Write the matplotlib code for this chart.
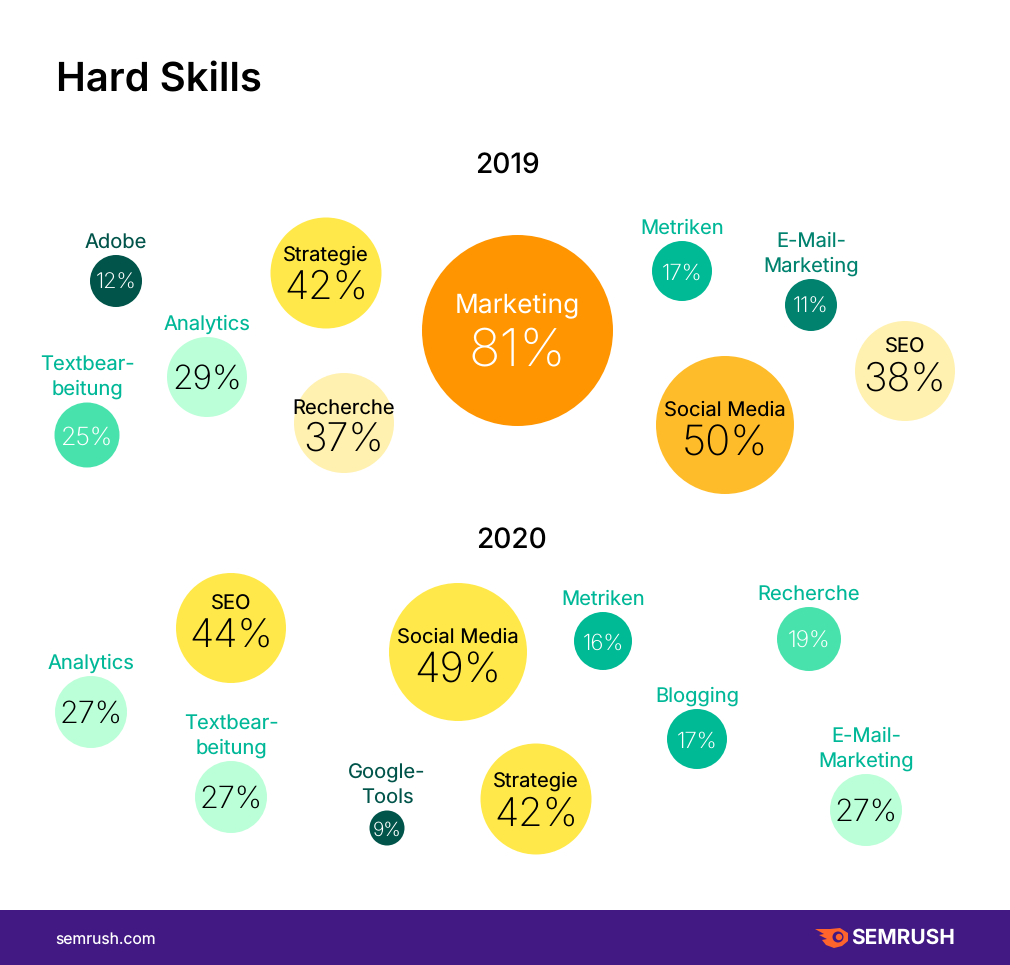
import matplotlib
matplotlib.use("Agg")
import matplotlib.pyplot as plt
from matplotlib.patches import Circle, Rectangle, Polygon

plt.rcParams['font.family'] = ['Inter', 'DejaVu Sans']
plt.rcParams['text.hinting'] = 'none'

# colors
ORANGE = '#ff9500'
AMBER = '#ffbc2a'
YELLOW = '#ffe94a'
CREAM = '#fff1b0'
MINT = '#bbffd8'
LIGHT_GREEN = '#48e3ad'
TEAL = '#00ba95'
DARK_TEAL = '#00826f'
FOREST = '#00544a'
PURPLE = '#421983'
FLAME = '#ff642d'

# 2019 data
names_2019 = ['Marketing', 'Social Media', 'Strategie', 'SEO', 'Recherche', 'Analytics',
              'Textbear-\nbeitung', 'Metriken', 'Adobe', 'E-Mail-\nMarketing']
values_2019 = [81, 50, 42, 38, 37, 29, 25, 17, 12, 11]

# 2020 data
names_2020 = ['Social Media', 'SEO', 'Strategie', 'Analytics', 'Textbear-\nbeitung',
              'E-Mail-\nMarketing', 'Recherche', 'Blogging', 'Metriken', 'Google-\nTools']
values_2020 = [49, 44, 42, 27, 27, 27, 19, 17, 16, 9]

# layout in pixels, same order as the data
x_2019 = [517.5, 725, 326, 905, 344, 207, 87, 682, 116, 811]
y_2019 = [330.5, 425, 273, 371, 423, 377, 435, 271, 281, 305]
r_2019 = [95.5, 69, 55.5, 50, 50, 40, 32.5, 30, 26, 26]
c_2019 = [ORANGE, AMBER, YELLOW, CREAM, CREAM, MINT, LIGHT_GREEN, TEAL, FOREST, DARK_TEAL]
size_2019 = [37.5, 30, 28.5, 28.5, 28.5, 24, 18, 16, 15.5, 15.5]
name_dy_2019 = [-26, -17, -20, -26, -17, 0, 0, 0, 0, 0]
pct_dy_2019 = [19, 18, 13, 7, 15, 1, 1, 1, 0, 0]

x_2020 = [458, 231, 536, 91, 231, 866, 809, 697, 603, 387]
y_2020 = [652, 628, 799, 712, 797, 810, 639, 739, 641, 828]
r_2020 = [69, 55, 55.5, 36, 36, 36, 32, 30, 29, 17.5]
c_2020 = [YELLOW, YELLOW, YELLOW, MINT, MINT, MINT, LIGHT_GREEN, TEAL, TEAL, FOREST]
size_2020 = [30, 28.5, 28.5, 22, 22, 22, 16.5, 16, 16, 14]
name_dy_2020 = [-17, -26, -20, 0, 0, 0, 0, 0, 0, 0]
pct_dy_2020 = [18, 6, 14, 1, 1, 1, 1, 1, 1, 1]

TEXT_SHIFT = 2  # va='center' sits a bit high for this font


def label_color(fill):
    """ Outside labels take the shade of the bubble, the pale green ones are darker. """
    if fill == FOREST:
        return FOREST
    if fill == DARK_TEAL:
        return DARK_TEAL
    return '#00b897'


def draw_bubbles(ax, names, values, xs, ys, radii, colors, sizes, name_dys, pct_dys):
    """ Draws one year of bubbles with their labels. """
    for i in range(len(names)):
        x, y, r, col = xs[i], ys[i], radii[i], colors[i]
        name = names[i]
        pct = f'{values[i]}%'
        ax.add_patch(Circle((x, y), r, facecolor=col, edgecolor='none'))
        if r >= 50:
            # big bubble, label goes inside
            text_col = 'white' if col == ORANGE else 'black'
            name_size = 19 if col == ORANGE else 14.5
            ax.text(x, y + name_dys[i] + TEXT_SHIFT, name, color=text_col, fontsize=name_size,
                    ha='center', va='center')
        else:
            text_col = 'black' if col == MINT else 'white'
            n_lines = name.count('\n') + 1
            offset = r + 15 + (n_lines - 1) * 12
            ax.text(x, y - offset + TEXT_SHIFT, name, color=label_color(col), fontsize=14.5,
                    ha='center', va='center', linespacing=1.37)
        ax.text(x, y + pct_dys[i] + TEXT_SHIFT, pct, color=text_col, fontsize=sizes[i],
                ha='center', va='center', weight='light')


def draw_logo(ax):
    """ Flame mark and wordmark in the footer. """
    flame = [(815, 929), (830, 929), (840, 928), (848, 933), (848, 941), (842, 946),
             (834, 948), (826, 945), (822, 940), (827, 939), (819, 935), (824, 934)]
    ax.add_patch(Polygon(flame, closed=True, facecolor=FLAME, edgecolor='none'))
    ax.add_patch(Circle((838, 937), 5.5, facecolor=PURPLE, edgecolor='none'))
    ax.add_patch(Circle((839, 937), 3.2, facecolor=FLAME, edgecolor='none'))
    ax.text(851, 938.5, 'SEMRUSH', color='white', fontsize=15, weight='bold', ha='left', va='center')


fig = plt.figure(figsize=(10.1, 9.65), dpi=100)
ax = fig.add_axes([0, 0, 1, 1])
ax.set_xlim(0, 1010)
ax.set_ylim(965, 0)
ax.axis('off')

ax.text(56, 80, 'Hard Skills', fontsize=28.8, weight='semibold', color='black', ha='left', va='center')
ax.text(507, 166, '2019', fontsize=20.2, weight='medium', color='black', ha='center', va='center')
ax.text(511, 540, '2020', fontsize=20.2, weight='medium', color='black', ha='center', va='center')

draw_bubbles(ax, names_2019, values_2019, x_2019, y_2019, r_2019, c_2019, size_2019, name_dy_2019, pct_dy_2019)
draw_bubbles(ax, names_2020, values_2020, x_2020, y_2020, r_2020, c_2020, size_2020, name_dy_2020, pct_dy_2020)

# footer
ax.add_patch(Rectangle((0, 910), 1010, 55, facecolor=PURPLE, edgecolor='none'))
ax.text(55, 939.5, 'semrush.com', color='white', fontsize=11.3, ha='left', va='center')
draw_logo(ax)

fig.savefig('out.png', dpi=100)
